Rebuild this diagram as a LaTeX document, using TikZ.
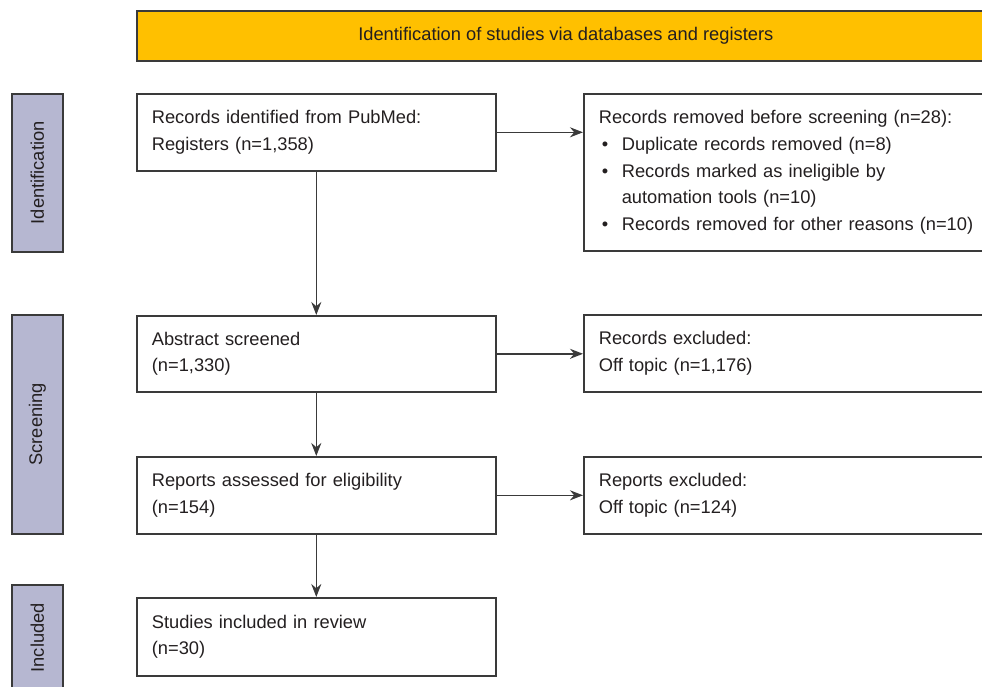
\documentclass[tikz,border=0pt]{standalone}
\usepackage{fontspec}
\setmainfont{Liberation Sans}
\usetikzlibrary{arrows.meta}
\definecolor{bannerfill}{HTML}{FFC000}
\definecolor{sidefill}{HTML}{B6B7D1}
\definecolor{linegray}{HTML}{3A3A3A}
\definecolor{textgray}{HTML}{231F20}
\newcommand{\bulletline}[1]{\makebox[23pt][l]{\hspace{3pt}\textbullet}#1}
\begin{document}
\begin{tikzpicture}
	[x=1pt,y=-1pt,
		font=\fontsize{18.3}{26.7}\selectfont,
		text=textgray,
		box/.style={draw=linegray,line width=1.6pt,anchor=north west,inner xsep=15pt,
			align=left,text width=#1},
		mainbox/.style={box=329pt,minimum width=359pt},
		sidebox/.style={draw=linegray,line width=1.6pt,fill=sidefill,anchor=north west,
			minimum width=51pt},
		arr/.style={-{Stealth[length=13pt,width=10pt]},linegray,line width=1.6pt}]
	\clip (0,0) rectangle (982,686);
	\useasboundingbox (0,0) rectangle (982,686);
	% banner
	\node[draw=linegray,line width=1.6pt,fill=bannerfill,anchor=north west,
		minimum width=858pt,minimum height=50pt] (banner) at (136,10)
		{Identification of studies via databases and registers};
	% phases
	\node[sidebox,minimum height=158pt] (sideid) at (11,93) {};
	\node[rotate=90] at (sideid.center) {Identification};
	\node[sidebox,minimum height=219pt] (sidescr) at (11,314) {};
	\node[rotate=90] at (sidescr.center) {Screening};
	\node[sidebox,minimum height=106pt] (sideinc) at (11,584) {};
	\node[rotate=90] at (sideinc.center) {Included};
	% main column
	\node[mainbox,minimum height=77pt] (recid) at (136,93)
		{Records identified from PubMed:\\Registers (n=1,358)};
	\node[mainbox,minimum height=76pt] (abstr) at (136,315)
		{Abstract screened\\(n=1,330)};
	\node[mainbox,minimum height=77pt] (assess) at (136,456)
		{Reports assessed for eligibility\\(n=154)};
	\node[mainbox,minimum height=78pt] (studies) at (136,597)
		{Studies included in review\\(n=30)};
	% right column
	\node[box=390pt,minimum width=420pt,minimum height=157pt] (removed) at (583,93)
		{Records removed before screening (n=28):\\
		\bulletline{Duplicate records removed (n=8)}\\
		\bulletline{Records marked as ineligible by}\\
		\hspace{23pt}automation tools (n=10)\\
		\bulletline{Records removed for other reasons (n=10)}};
	\node[box=390pt,minimum width=420pt,minimum height=77pt] (recex) at (583,314)
		{Records excluded:\\Off topic (n=1,176)};
	\node[box=390pt,minimum width=420pt,minimum height=77pt] (repex) at (583,456)
		{Reports excluded:\\Off topic (n=124)};
	% arrows
	\draw[arr] (recid) -- (abstr);
	\draw[arr] (abstr) -- (assess);
	\draw[arr] (assess) -- (studies);
	\draw[arr] (recid.east) -- (recid.east -| removed.west);
	\draw[arr] (abstr.east) -- (abstr.east -| recex.west);
	\draw[arr] (assess.east) -- (assess.east -| repex.west);
\end{tikzpicture}
\end{document}
